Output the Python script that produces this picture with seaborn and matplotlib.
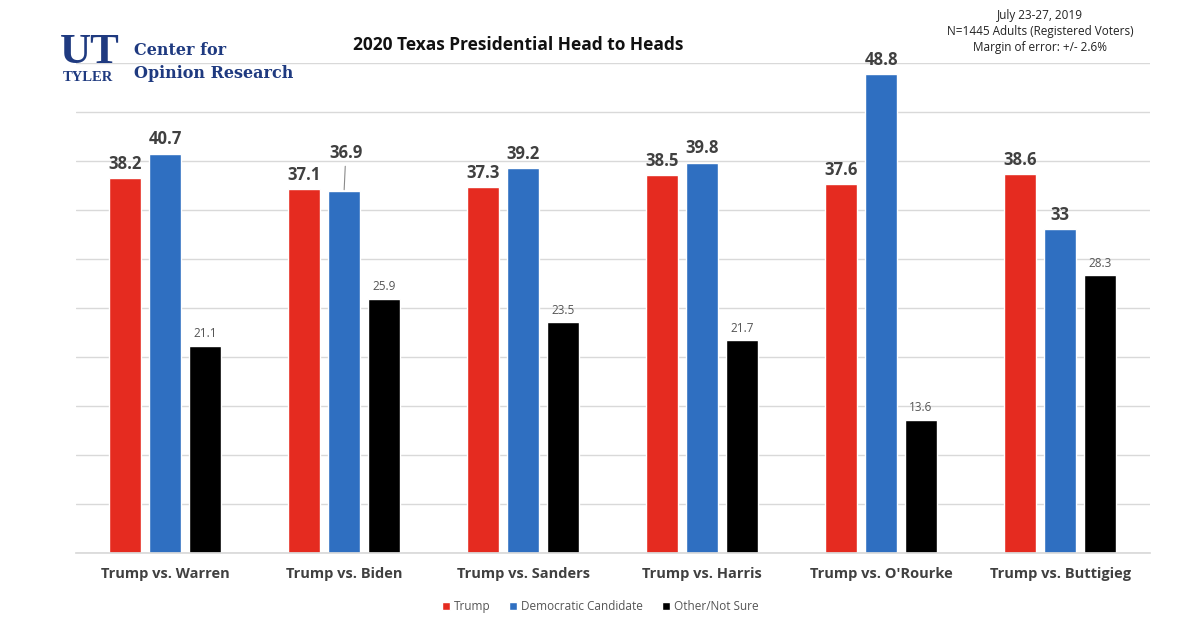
import matplotlib
matplotlib.use("Agg")
import matplotlib.pyplot as plt
import seaborn as sns
import pandas as pd

matchups = ["Trump vs. Warren", "Trump vs. Biden", "Trump vs. Sanders",
            "Trump vs. Harris", "Trump vs. O'Rourke", "Trump vs. Buttigieg"]
trump = [38.2, 37.1, 37.3, 38.5, 37.6, 38.6]
democrat = [40.7, 36.9, 39.2, 39.8, 48.8, 33]
other = [21.1, 25.9, 23.5, 21.7, 13.6, 28.3]
series_names = ["Trump", "Democratic Candidate", "Other/Not Sure"]
colors = ["#E52B20", "#2F6FC1", "#000000"]

rows = []
for name, vals in zip(series_names, [trump, democrat, other]):
    for m, v in zip(matchups, vals):
        rows.append({"matchup": m, "series": name, "value": v})
df = pd.DataFrame(rows)

sns.set_theme(style="white")
plt.rcParams["font.family"] = ["Open Sans", "DejaVu Sans"]

fig = plt.figure(figsize=(12, 6.43), dpi=100)
ax = fig.add_axes([0.063, 0.140, 0.895, 0.7627])

sns.barplot(data=df, x="matchup", y="value", hue="series", order=matchups,
            hue_order=series_names, palette=colors, width=0.67, gap=0.2,
            saturation=1, ax=ax, legend=True)

ax.set_ylim(0, 50)
ax.set_xlim(-0.5, 5.5)
ax.set_yticks(range(0, 51, 5))
ax.set_yticklabels([])
ax.tick_params(axis="y", length=0)
ax.yaxis.grid(True, color="#D9D9D9", linewidth=1.0)
ax.set_axisbelow(True)
for s in ["top", "right", "left"]:
    ax.spines[s].set_visible(False)
ax.spines["bottom"].set_color("#D9D9D9")
ax.set_xlabel("")
ax.set_ylabel("")
ax.tick_params(axis="x", length=0, pad=10)
for lbl in ax.get_xticklabels():
    lbl.set_fontsize(10.5)
    lbl.set_fontweight("bold")
    lbl.set_color("#404040")

# value labels
for ci, cont in enumerate(ax.containers[:3]):
    for j, bar in enumerate(cont.patches):
        v = bar.get_height()
        x = bar.get_x() + bar.get_width() / 2
        txt = f"{v:g}"
        if ci < 2:
            kw = dict(fontsize=12, fontweight="bold", color="#404040")
        else:
            kw = dict(fontsize=8.5, color="#555555")
        if ci == 1 and j == 1:
            ax.annotate(txt, xy=(x, v), xytext=(x + 0.01, v + 3.0),
                        ha="center", va="bottom", annotation_clip=False,
                        arrowprops=dict(arrowstyle="-", color="#8A8A8A", lw=0.8,
                                        shrinkA=1, shrinkB=1), **kw)
        else:
            ax.annotate(txt, xy=(x, v), xytext=(0, 4), textcoords="offset points",
                        ha="center", va="bottom", annotation_clip=False, **kw)

# legend
handles, labels = ax.get_legend_handles_labels()
ax.legend_.remove()
fig.legend(handles, labels, loc="center", bbox_to_anchor=(0.5, 0.057), ncol=3,
           frameon=False, fontsize=8.5, handlelength=0.7, handleheight=0.7,
           handletextpad=0.3, columnspacing=1.6, labelcolor="#555555")

# title
fig.text(0.432, 0.930, "2020 Texas Presidential Head to Heads", ha="center", va="center",
         fontsize=12.5, fontweight="bold", color="#111111")

# survey info
info = ["July 23-27, 2019", "N=1445 Adults (Registered Voters)", "Margin of error: +/- 2.6%"]
for k, line in enumerate(info):
    fig.text(0.867, 0.976 - k * 0.025, line, ha="center", va="center",
             fontsize=8.5, color="#222222")

# logo
navy = "#1F3A80"
fig.text(0.050, 0.902, "UT", ha="left", va="baseline", fontsize=31, fontweight="bold",
         family=["Liberation Serif"], color=navy)
fig.text(0.052, 0.879, "TYLER", ha="left", va="center", fontsize=10.5, fontweight="bold",
         family=["Liberation Serif"], color=navy)
fig.text(0.112, 0.921, "Center for", ha="left", va="center", fontsize=11.5, fontweight="bold",
         family=["DejaVu Serif"], color=navy)
fig.text(0.112, 0.886, "Opinion Research", ha="left", va="center", fontsize=11.5,
         fontweight="bold", family=["DejaVu Serif"], color=navy)

fig.savefig("out.png", dpi=100, facecolor="white")
